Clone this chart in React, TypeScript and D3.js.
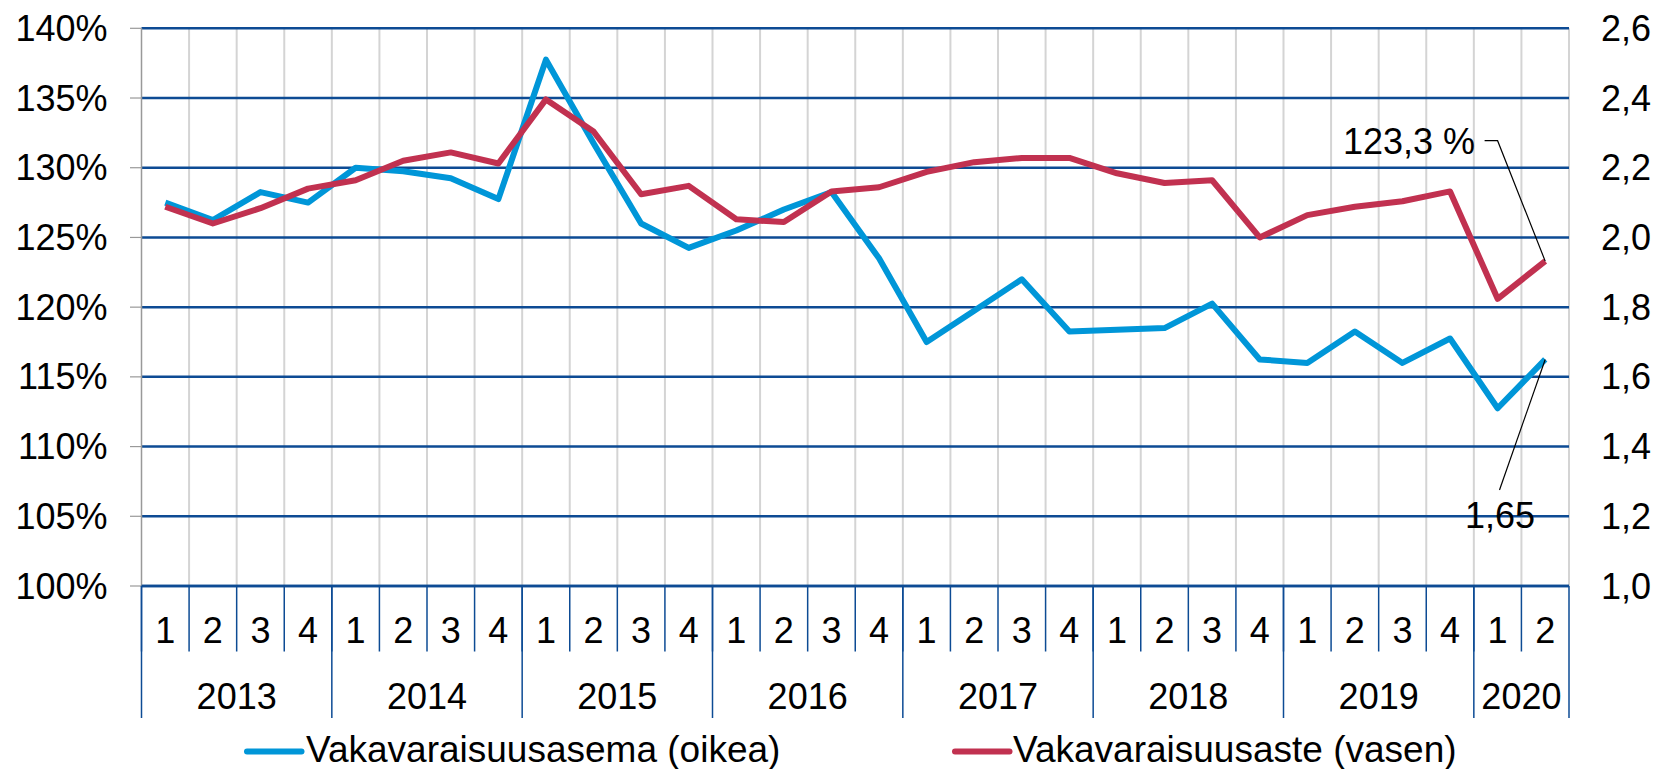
import React from "react";
import * as d3 from "d3";

const W = 1662;
const H = 769;

const years = ["2013", "2014", "2015", "2016", "2017", "2018", "2019", "2020"];
const quartersPerYear = [4, 4, 4, 4, 4, 4, 4, 2];
const categories: string[] = [];
years.forEach((y, yi) => {
  for (let q = 1; q <= quartersPerYear[yi]; q++) categories.push(`${y}Q${q}`);
});

// Vakavaraisuusaste (vasen), %
const vakavaraisuusaste = [
  127.2, 126.0, 127.1, 128.5, 129.1, 130.5, 131.1, 130.3,
  134.9, 132.6, 128.1, 128.7, 126.3, 126.1, 128.3, 128.6,
  129.7, 130.4, 130.7, 130.7, 129.6, 128.9, 129.1, 125.0,
  126.6, 127.2, 127.6, 128.3, 120.6, 123.3,
];

// Vakavaraisuusasema (oikea)
const vakavaraisuusasema = [
  2.10, 2.05, 2.13, 2.10, 2.20, 2.19, 2.17, 2.11,
  2.51, 2.27, 2.04, 1.97, 2.02, 2.08, 2.13, 1.94,
  1.70, 1.79, 1.88, 1.73, 1.735, 1.74, 1.81, 1.65,
  1.64, 1.73, 1.64, 1.71, 1.51, 1.65,
];

const leftTicks = [100, 105, 110, 115, 120, 125, 130, 135, 140];
const rightTicks = [1.0, 1.2, 1.4, 1.6, 1.8, 2.0, 2.2, 2.4, 2.6];

const FONT = "'Liberation Sans', Arial, sans-serif";
const FS = 36;
const BLUE = "#0096d8";
const RED = "#c13150";
const GRID = "#0d4b94";
const VGRID = "#d4d4d4";

export default function App() {
  const left = 141.5;
  const right = 1569;
  const top = 28.3;
  const bottom = 586;

  const x = d3.scaleBand<string>().domain(categories).range([left, right]).padding(0);
  const yL = d3.scaleLinear().domain([100, 140]).range([bottom, top]);
  const yR = d3.scaleLinear().domain([1.0, 2.6]).range([bottom, top]);
  const cx = (i: number) => (x(categories[i]) as number) + x.bandwidth() / 2;

  const lineL = d3
    .line<number>()
    .x((_, i) => cx(i))
    .y((d) => yL(d));
  const lineR = d3
    .line<number>()
    .x((_, i) => cx(i))
    .y((d) => yR(d));

  const fmtR = (v: number) => v.toFixed(1).replace(".", ",");

  const yearGroups: { year: string; start: number; end: number }[] = [];
  let idx = 0;
  years.forEach((y, yi) => {
    yearGroups.push({ year: y, start: idx, end: idx + quartersPerYear[yi] });
    idx += quartersPerYear[yi];
  });
  const bx = (i: number) => (i >= categories.length ? right : (x(categories[i]) as number));

  const lastI = categories.length - 1;
  const lastX = cx(lastI);
  const lastRedY = yL(vakavaraisuusaste[lastI]);
  const lastBlueY = yR(vakavaraisuusasema[lastI]);

  return (
    <svg
      width={W}
      height={H}
      style={{ position: "absolute", left: 0, top: 0, background: "#fff" }}
      fontFamily={FONT}
    >
      {/* vertical gridlines */}
      {categories.map((c, i) =>
        i === 0 ? null : (
          <line key={"vg" + i} x1={bx(i)} x2={bx(i)} y1={top} y2={bottom} stroke={VGRID} strokeWidth={2} />
        )
      )}
      <line x1={right} x2={right} y1={top} y2={bottom} stroke={VGRID} strokeWidth={2} />

      {/* horizontal gridlines */}
      {leftTicks.map((t) => (
        <g key={"hg" + t}>
          <line x1={left} x2={right} y1={yL(t)} y2={yL(t)} stroke={GRID} strokeWidth={2.5} />
          <line x1={130} x2={left} y1={yL(t)} y2={yL(t)} stroke="#999" strokeWidth={1.2} />
        </g>
      ))}
      <line x1={left} x2={left} y1={top} y2={bottom} stroke="#999" strokeWidth={1.5} />

      {leftTicks.map((t) => (
        <text key={"lt" + t} x={107.5} y={yL(t) + 12.5} textAnchor="end" fontSize={FS} fill="#000">
          {t}%
        </text>
      ))}
      {rightTicks.map((t) => (
        <text key={"rt" + t} x={1601} y={yR(t) + 12.5} textAnchor="start" fontSize={FS} fill="#000">
          {fmtR(t)}
        </text>
      ))}

      {/* category axis */}
      <line x1={left} x2={right} y1={bottom} y2={bottom} stroke={GRID} strokeWidth={2.5} />
      {categories.map((c, i) => (
        <line key={"qs" + i} x1={bx(i)} x2={bx(i)} y1={bottom} y2={651.5} stroke={GRID} strokeWidth={1.5} />
      ))}
      {yearGroups.map((g) => (
        <line key={"ys" + g.year} x1={bx(g.start)} x2={bx(g.start)} y1={bottom} y2={718} stroke={GRID} strokeWidth={1.5} />
      ))}
      <line x1={right} x2={right} y1={bottom} y2={718} stroke={GRID} strokeWidth={1.5} />
      {categories.map((c, i) => (
        <text key={"ql" + i} x={cx(i)} y={643} textAnchor="middle" fontSize={FS} fill="#000">
          {c.split("Q")[1]}
        </text>
      ))}
      {yearGroups.map((g) => (
        <text
          key={"yl" + g.year}
          x={(bx(g.start) + bx(g.end)) / 2}
          y={709}
          textAnchor="middle"
          fontSize={FS}
          fill="#000"
        >
          {g.year}
        </text>
      ))}

      {/* series */}
      <path d={lineR(vakavaraisuusasema) || ""} fill="none" stroke={BLUE} strokeWidth={6} strokeLinejoin="round" />
      <path d={lineL(vakavaraisuusaste) || ""} fill="none" stroke={RED} strokeWidth={6} strokeLinejoin="round" />

      {/* annotations */}
      <polyline
        points={`1484.6,140.7 1497.6,140.7 ${lastX},${lastRedY}`}
        fill="none"
        stroke="#000"
        strokeWidth={1.2}
      />
      <text x={1475} y={153.5} textAnchor="end" fontSize={FS} fill="#000">
        123,3 %
      </text>
      <line x1={1499.5} y1={490} x2={lastX} y2={lastBlueY} stroke="#000" strokeWidth={1.2} />
      <text x={1500} y={528} textAnchor="middle" fontSize={FS} fill="#000">
        1,65
      </text>

      {/* legend */}
      <line x1={247} x2={301.5} y1={751.5} y2={751.5} stroke={BLUE} strokeWidth={6} strokeLinecap="round" />
      <text x={306} y={762} fontSize={37} fill="#000">
        Vakavaraisuusasema (oikea)
      </text>
      <line x1={955} x2={1009.5} y1={751.5} y2={751.5} stroke={RED} strokeWidth={6} strokeLinecap="round" />
      <text x={1013} y={762} fontSize={37} fill="#000">
        Vakavaraisuusaste (vasen)
      </text>
    </svg>
  );
}
